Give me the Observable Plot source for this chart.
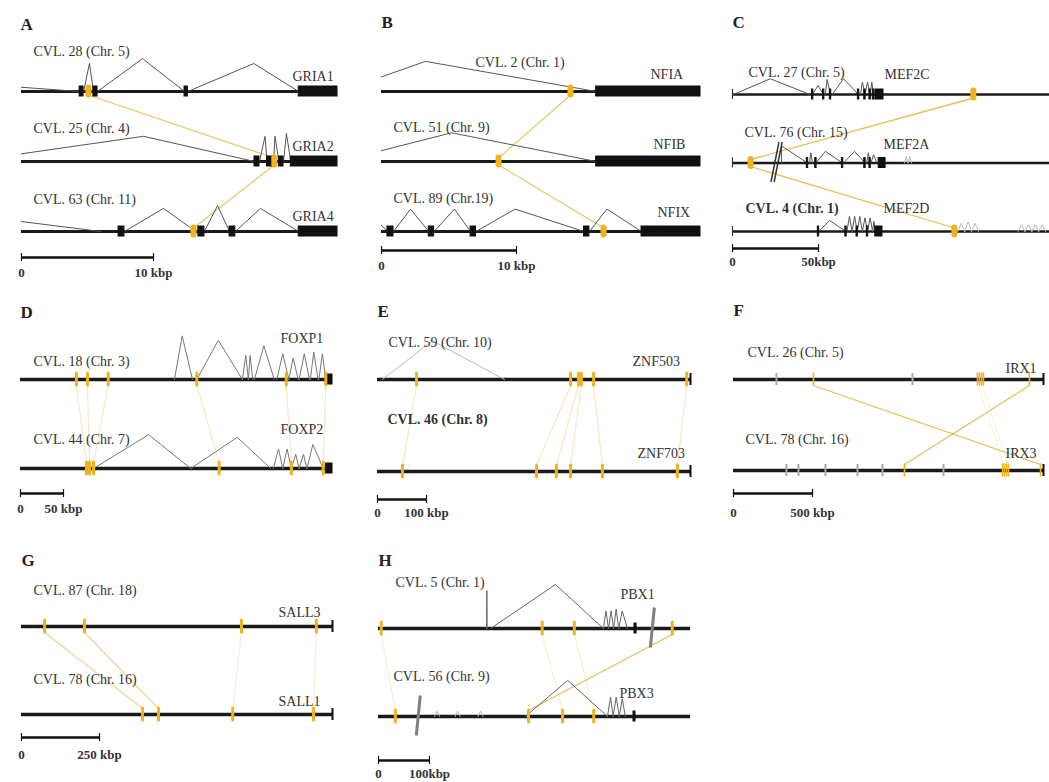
<!DOCTYPE html>
<html><head><meta charset="utf-8">
<script src="https://cdn.jsdelivr.net/npm/d3@7"></script>
<script src="https://cdn.jsdelivr.net/npm/@observablehq/plot@0.6"></script>
<style>
body{margin:0;background:#fff;}
#fig{position:relative;width:1049px;height:782px;background:#fff;overflow:hidden;}
</style></head><body><div id="fig"></div>
<script>
// ================= DATA (genomic positions in kbp) =================
// exons: [lane, start, end]; elements (conserved, orange): [lane, pos]
// introns: [lane, start, apex, end, height(lane units), faint?]
// links: [lane1, pos1, lane2, pos2, opacity]
const A_tracks = ["CVL. 28 (Chr. 5)", "CVL. 25 (Chr. 4)", "CVL. 63 (Chr. 11)"];
const A_genes = ["GRIA1", "GRIA2", "GRIA4"];
const A_exons = [[0,4.4,4.7],[0,5.45,5.76],[0,12.35,12.6],[0,21.0,23.94],
  [1,17.65,18.03],[1,18.6,19.1],[1,19.5,19.85],[1,20.4,23.94],
  [2,7.35,7.8],[2,13.4,13.86],[2,15.76,16.2],[2,21.0,23.94]];
const A_elements = [[0,5.07],[1,19.15],[2,13.03]];
const A_introns = [[0,-20,-8,4.4,0.17],[0,4.7,5.15,5.45,0.4],[0,5.76,9.17,12.35,0.47],[0,12.6,17.6,21.0,0.4],
  [1,-4.07,9.24,17.65,0.36],[1,18.03,18.45,18.6,0.36],[1,19.1,19.2,19.5,0.36],[1,19.85,20.07,20.4,0.4],
  [2,-10,-2,6,0.19],[2,7.8,10.76,13.2,0.33],[2,13.86,14.85,15.76,0.37],[2,16.2,18.1,21.0,0.33]];
const A_links = [[0,5.07,1,19.15,0.8],[1,19.15,2,13.03,0.8]];
const A_scale = [10, "10 kbp"];

const B_tracks = ["CVL. 2 (Chr. 1)", "CVL. 51 (Chr. 9)", "CVL. 89 (Chr.19)"];
const B_genes = ["NFIA", "NFIB", "NFIX"];
const B_exons = [[0,15.9,23.63],[1,15.9,23.63],[2,0.44,0.89],[2,3.5,3.9],[2,6.6,7.0],[2,15.0,15.4],[2,19.26,23.63]];
const B_elements = [[0,14.0],[1,8.67],[2,16.45]];
const B_introns = [[0,-3.1,3.26,15.9,0.43],[1,-3.17,5.19,15.9,0.41],[2,-1.0,-0.3,0.44,0.15],
  [2,0.89,2.15,3.5,0.32],[2,3.9,5.4,6.6,0.32],[2,7.0,9.9,15.0,0.32],[2,15.4,16.7,19.26,0.32]];
const B_links = [[0,14.0,1,8.67,0.8],[1,8.67,2,16.45,0.8]];
const B_scale = [10, "10 kbp"];

const C_tracks = ["CVL. 27 (Chr. 5)", "CVL. 76 (Chr. 15)", "CVL. 4 (Chr. 1)"];
const C_genes = ["MEF2C", "MEF2A", "MEF2D"];
const C_exons = [[0,46.2,47],[0,52.6,53.4],[0,56.6,57.4],[0,72.9,73.7],[0,76.6,77.4],[0,79.6,80.4],[0,81.6,82.4],[0,83.1,87.8],
  [1,43.2,44],[1,48.1,48.9],[1,63.6,64.4],[1,76.6,77.4],[1,79.6,80.4],[1,85,89],
  [2,49.6,50.4],[2,65.6,66.4],[2,72.1,72.9],[2,78.1,78.9],[2,83,87.2]];
const C_elements = [[0,140],[1,10.5],[2,129]];
const C_introns = [[0,0.6,22,45,0.23],[0,46.5,49.7,52.9,0.13],[0,54,55,57,0.22],[0,58,64.5,73.3,0.23],[0,74.4,75.5,77,0.18],[0,77,78.5,80,0.18],[0,80,81,82,0.18],
  [1,28.5,28.5,43.6,0.25],[1,44.8,45.5,46.5,0.15],[1,48.5,54,64,0.17],[1,64.5,71,77,0.17],[1,78,79,80,0.15],[1,80.5,82,84,0.12],[1,100,101,102,0.1,1],[1,102,103,104,0.1,1],
  [2,50,56.5,66,0.16],[2,66.5,68,69.5,0.22],[2,69.5,71,72.5,0.22],[2,72.5,74,75.5,0.22],[2,75.5,77,78.5,0.2],[2,78.5,80,81.5,0.2],[2,81.5,82.2,83,0.15],
  [2,131,133,135,0.12,1],[2,135,137,139,0.14,1],[2,139,141,143,0.12,1],[2,166,168,170,0.1,1],[2,170,172,174,0.1,1],[2,174,176,178,0.1,1],[2,178,180,182,0.1,1]];
const C_breaks = [[1,25.6]];
const C_links = [[0,140,1,10.5,0.85],[1,10.5,2,129,0.85]];
const C_scale = [50, "50kbp"];

const D_tracks = ["CVL. 18 (Chr. 3)", "CVL. 44 (Chr. 7)"];
const D_genes = ["FOXP1", "FOXP2"];
const D_exons = [[0,355,362.8],[1,355,362.8]];
const D_elements = [[0,65],[0,77.9],[0,102],[0,205],[0,309],[0,355],[1,76.7],[1,80.2],[1,84.9],[1,231],[1,315],[1,352]];
const D_introns = [[0,179,188,200,0.49],[0,205,230,258,0.44],[0,258,262,265,0.27],[0,265,267,270,0.27],[0,272,283,295,0.38],[0,298,305,312,0.29],[0,312,317,323,0.24],[0,324,330,336,0.29],[0,337,341,346,0.31],[0,347,351,355,0.29],
  [1,85,149,198,0.38],[1,198,252,291,0.35],[1,294,300,305,0.22],[1,305,310,315,0.22],[1,315,320,324,0.16],[1,324,329,333,0.16],[1,333,340,352,0.27]];
const D_links = [[0,65,1,76.7,0.3],[0,77.9,1,80.2,0.3],[0,102,1,84.9,0.3],[0,205,1,231,0.3],[0,309,1,315,0.3],[0,355,1,352,0.3]];
const D_scale = [50, "50 kbp"];

const E_tracks = ["CVL. 59 (Chr. 10)", "CVL. 46 (Chr. 8)"];
const E_genes = ["ZNF503", "ZNF703"];
const E_elements = [[0,79.6],[0,394],[0,410],[0,416],[0,441],[0,631],[1,51],[1,324.5],[1,365],[1,394],[1,459],[1,612]];
const E_introns = [[0,10,112,259,0.42,1]];
const E_links = [[0,79.6,1,51,0.3],[0,394,1,324.5,0.3],[0,410,1,365,0.3],[0,416,1,394,0.3],[0,441,1,459,0.3],[0,631,1,612,0.3]];
const E_scale = [100, "100 kbp"];

const F_tracks = ["CVL. 26 (Chr. 5)", "CVL. 78 (Chr. 16)"];
const F_genes = ["IRX1", "IRX3"];
const F_grayMarks = [[0,272],[0,1133],[1,335],[1,411],[1,582],[1,785],[1,943],[1,1329]];
const F_elements = [[0,506],[0,1544],[0,1557],[0,1570],[0,1582],[0,1873],[1,1082],[1,1703],[1,1715],[1,1728],[1,1740],[1,1943]];
const F_links = [[0,506,1,1943,0.85],[0,1873,1,1082,0.85],[0,1550,1,1710,0.15],[0,1575,1,1735,0.15]];
const F_scale = [500, "500 kbp"];

const G_tracks = ["CVL. 87 (Chr. 18)", "CVL. 78 (Chr. 16)"];
const G_genes = ["SALL3", "SALL1"];
const G_elements = [[0,74],[0,202],[0,705],[0,945],[1,388],[1,439],[1,677],[1,936]];
const G_links = [[0,74,1,388,0.55],[0,202,1,439,0.55],[0,705,1,677,0.2],[0,945,1,936,0.2]];
const G_scale = [250, "250 kbp"];

const H_tracks = ["CVL. 5 (Chr. 1)", "CVL. 56 (Chr. 9)"];
const H_genes = ["PBX1", "PBX3"];
const H_exons = [[0,502,506],[1,500,504]];
const H_elements = [[0,5.3],[0,321],[0,384],[0,576],[1,33],[1,294],[1,361],[1,422]];
const H_introns = [[0,212,212.5,213,0.43],[0,220,347,441,0.5],[0,441,446,451,0.2],[0,451,456,461,0.2],[0,461,466,471,0.22],[0,471,478,488,0.2],
  [1,288,371,449,0.41],[1,449,455,460,0.22],[1,460,466,472,0.22],[1,472,478,484,0.2],
  [1,110,115,120,0.06,1],[1,150,155,160,0.06,1],[1,195,200,205,0.06,1]];
const H_breaks = [[0,537],[1,78]];
const H_links = [[0,576,1,294,0.85],[0,5.3,1,33,0.2],[0,321,1,361,0.2],[0,384,1,422,0.2]];
const H_scale = [100, "100kbp"];

// ================= LAYOUT (page pixels) =================
const layout = {
  A:{box:[0,0,355,290], x0:21, x1:337, ppk:13.2, y0:91, gap:70, letter:[20,29],
     labels:[[33,55],[33,132],[33,203]], genes:[[292,80],[292,150],[292,220]], scale:[257,276],
     elemW:6, elemH:3.5, trackW:3, intron:"#555", link:1.2},
  B:{box:[360,0,355,290], x0:381, x1:700, ppk:13.5, y0:91, gap:70, letter:[381,27],
     labels:[[475,66],[393,131],[393,202]], genes:[[650,78],[653,148],[657,216]], scale:[250,269],
     elemW:6, elemH:3.5, trackW:3, intron:"#555", link:1.2},
  C:{box:[715,0,334,290], x0:732, x1:1049, ppk:1.72, y0:94, gap:68.5, letter:[732,27],
     labels:[[748,76],[744,136],[745,212]], genes:[[884,78],[883,148],[883,212]], scale:[248,265],
     elemW:6, elemH:3.5, trackW:2.5, intron:"#555", link:1.3, startTick:true, bold:[2],
     breakW:1.5, breakC:"#333", breakOff:[-1.6, 1.6], breakSlant:4},
  D:{box:[0,290,355,255], x0:20, x1:332, ppk:0.86, y0:379, gap:89, letter:[20,317],
     labels:[[33,365],[33,443]], genes:[[280,342],[280,433]], scale:[493,512],
     elemW:3, elemH:6, trackW:3.5, intron:"#777", link:1.2},
  E:{box:[360,290,355,255], x0:377, x1:690, ppk:0.49, y0:379, gap:92, letter:[377,316],
     labels:[[388,346],[387,423]], genes:[[632,365],[637,457]], scale:[499,516],
     elemW:3, elemH:6, trackW:3.5, intron:"#777", link:1.2, endTick:true, bold:[1]},
  F:{box:[715,290,334,255], x0:733, x1:1043, ppk:0.158, y0:379, gap:91, letter:[733,315],
     labels:[[747,356],[745,443]], genes:[[1005,372],[1005,457]], scale:[493,516],
     elemW:1.6, elemH:6, trackW:3.5, intron:"#777", link:1.3, endTick:true},
  G:{box:[0,545,355,237], x0:21, x1:332, ppk:0.312, y0:626, gap:88, letter:[21,565],
     labels:[[33,594],[33,683]], genes:[[278,616],[278,705]], scale:[737,758],
     elemW:3, elemH:6, trackW:3.5, intron:"#777", link:1.3, endTick:true},
  H:{box:[360,545,355,237], x0:378, x1:690, ppk:0.51, y0:628, gap:88, letter:[378,565],
     labels:[[395,586],[393,680]], genes:[[620,598],[619,697]], scale:[760,777],
     elemW:3, elemH:6, trackW:3.5, intron:"#666", link:1.3,
     breakW:3, breakC:"#808080", breakOff:[0], breakSlant:2}
};

const panels = {
  A:{tracks:A_tracks, genes:A_genes, exons:A_exons, elements:A_elements, introns:A_introns, links:A_links, scale:A_scale},
  B:{tracks:B_tracks, genes:B_genes, exons:B_exons, elements:B_elements, introns:B_introns, links:B_links, scale:B_scale},
  C:{tracks:C_tracks, genes:C_genes, exons:C_exons, elements:C_elements, introns:C_introns, links:C_links, scale:C_scale, breaks:C_breaks},
  D:{tracks:D_tracks, genes:D_genes, exons:D_exons, elements:D_elements, introns:D_introns, links:D_links, scale:D_scale},
  E:{tracks:E_tracks, genes:E_genes, elements:E_elements, introns:E_introns, links:E_links, scale:E_scale},
  F:{tracks:F_tracks, genes:F_genes, elements:F_elements, links:F_links, scale:F_scale, gray:F_grayMarks},
  G:{tracks:G_tracks, genes:G_genes, elements:G_elements, links:G_links, scale:G_scale},
  H:{tracks:H_tracks, genes:H_genes, exons:H_exons, elements:H_elements, introns:H_introns, links:H_links, scale:H_scale, breaks:H_breaks}
};

const ORANGE = "#f0b31c";
const LINK = "#e2b43c";
const FONT = "'Liberation Serif', 'Times New Roman', Times, serif";
const INK = "#333";

function build(id, d, c) {
  const [bl, bt, bw, bh] = c.box;
  const L = (c.x1 - c.x0) / c.ppk;
  const X = px => (px - c.x0) / c.ppk;
  const Y = py => (py - c.y0) / c.gap;
  const u = px => px / c.gap;
  const lanes = d.tracks.map((_, i) => i);
  const ex = u(5), el = u(c.elemH), tk = u(6);
  const pts = [];
  (d.introns || []).forEach((r, i) => {
    const f = !!r[5];
    pts.push({x:r[1], y:r[0], z:i, f}, {x:r[2], y:r[0]-r[4], z:i, f}, {x:r[3], y:r[0], z:i, f});
  });
  const bold = c.bold || [];
  const labs = d.tracks.map((t, i) => ({x:X(c.labels[i][0]), y:Y(c.labels[i][1]), t, b:bold.includes(i)}));
  const genes = d.genes.map((t, i) => ({x:X(c.genes[i][0]), y:Y(c.genes[i][1]), t}));
  const [sLen, sText] = d.scale;
  const sy = Y(c.scale[0]), st = Y(c.scale[1]);
  const links = d.links || [];
  const alphas = [...new Set(links.map(l => l[4]))];
  const textOpts = {x:"x", y:"y", text:"t", textAnchor:"start", lineAnchor:"bottom", fontSize:14, fontFamily:FONT, fill:INK};
  const slant = c.breakSlant || 4;
  const marks = [
    ...alphas.map(a => Plot.link(links.filter(l => l[4] === a), {
      x1:l=>l[1], y1:l=>l[0]+el, x2:l=>l[3], y2:l=>l[2]-el,
      stroke:LINK, strokeOpacity:a, strokeWidth:c.link})),
    Plot.ruleY(lanes, {y:v=>v, x1:()=>0, x2:()=>L, stroke:"#1a1a1a", strokeWidth:c.trackW}),
    Plot.line(pts.filter(p=>p.f), {x:"x", y:"y", z:"z", stroke:"#b8b8b8", strokeWidth:1, clip:true}),
    Plot.line(pts.filter(p=>!p.f), {x:"x", y:"y", z:"z", stroke:c.intron, strokeWidth:1, clip:true}),
    Plot.rect(d.exons || [], {x1:r=>r[1], x2:r=>r[2], y1:r=>r[0]-ex, y2:r=>r[0]+ex, fill:"#111", stroke:"#111", strokeWidth:1}),
    Plot.ruleX(d.gray || [], {x:r=>r[1], y1:r=>r[0]-el, y2:r=>r[0]+el, stroke:"#aaa", strokeWidth:2}),
    ...(c.breakOff || []).map(o => Plot.link(d.breaks || [], {
      x1:r=>r[1] + (slant + o) / c.ppk, y1:r=>r[0]-u(21),
      x2:r=>r[1] + (-slant + o) / c.ppk, y2:r=>r[0]+u(19),
      stroke:c.breakC || "#555", strokeWidth:c.breakW || 1.5})),
    Plot.ruleX(d.elements, {x:r=>r[1], y1:r=>r[0]-el, y2:r=>r[0]+el, stroke:ORANGE, strokeWidth:c.elemW, strokeLinecap:"round"}),
    Plot.ruleX(c.endTick ? lanes : [], {x:()=>L, y1:l=>l-tk, y2:l=>l+tk, stroke:"#111", strokeWidth:2}),
    Plot.ruleX(c.startTick ? lanes : [], {x:()=>0, y1:l=>l-u(5), y2:l=>l+u(5), stroke:"#333", strokeWidth:1.2}),
    Plot.ruleY([sy], {y:v=>v, x1:()=>0, x2:()=>sLen, stroke:"#111", strokeWidth:2.5}),
    Plot.ruleX([0, sLen], {x:v=>v, y1:()=>sy-u(4), y2:()=>sy+u(4), stroke:"#111", strokeWidth:1.2}),
    Plot.text([["0", 0], [sText, sLen]], {x:p=>p[1], y:()=>st, text:p=>p[0], textAnchor:"middle", lineAnchor:"bottom",
      fontSize:13, fontWeight:"bold", fontFamily:FONT, fill:INK}),
    Plot.text(labs.filter(l=>!l.b), textOpts),
    Plot.text(labs.filter(l=>l.b), {...textOpts, fontWeight:"bold"}),
    Plot.text(genes, textOpts),
    Plot.text([id], {x:()=>X(c.letter[0]), y:()=>Y(c.letter[1]), text:v=>v, textAnchor:"start", lineAnchor:"bottom",
      fontSize:17, fontWeight:"bold", fontFamily:FONT, fill:"#222"})
  ];
  const svg = Plot.plot({
    width:bw, height:bh, marginLeft:c.x0 - bl, marginRight:bl + bw - c.x1, marginTop:0, marginBottom:0,
    x:{domain:[0, L], axis:null},
    y:{domain:[Y(bt), Y(bt + bh)], range:[0, bh], axis:null},
    style:{background:"transparent", overflow:"visible"},
    marks
  });
  svg.style.position = "absolute";
  svg.style.left = bl + "px";
  svg.style.top = bt + "px";
  return svg;
}

const fig = document.getElementById("fig");
for (const id of Object.keys(panels)) fig.appendChild(build(id, panels[id], layout[id]));
</script></body></html>
